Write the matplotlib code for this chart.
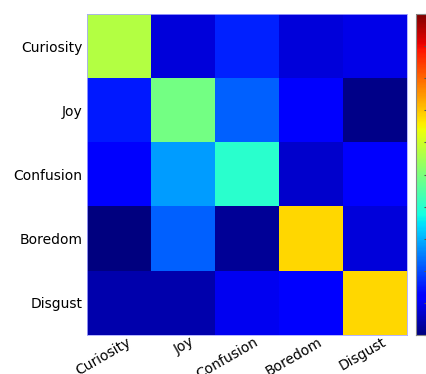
import numpy as np
import matplotlib
matplotlib.use("Agg")
from matplotlib import pyplot as plt
from matplotlib import transforms

labels = ["Curiosity", "Joy", "Confusion", "Boredom", "Disgust"]

# row-normalised confusion matrix (rows = true class, cols = predicted)
curiosity = [0.57, 0.08, 0.16, 0.08, 0.09]
joy = [0.15, 0.49, 0.22, 0.12, 0.01]
confusion = [0.11, 0.28, 0.40, 0.07, 0.11]
boredom = [0.00, 0.22, 0.02, 0.68, 0.08]
disgust = [0.04, 0.04, 0.10, 0.12, 0.68]


def plotConfusion(matrix, names, saveName="out.png"):
    fig = plt.figure(figsize=(4.26, 3.74), dpi=100)
    ax = fig.add_axes([87/426, 1 - 335/374, 320/426, 321/374])
    im = ax.imshow(matrix, cmap="jet", vmin=0, vmax=1,
                   interpolation="nearest", aspect="auto")
    ax.set_xticks(range(len(names)))
    ax.set_yticks(range(len(names)))
    ax.set_xticklabels(names, rotation=30, ha="right", rotation_mode="anchor", fontsize=10)
    ax.set_yticklabels(names, fontsize=10)
    ax.tick_params(length=0)
    ax.tick_params(axis="x", pad=0)
    # nudge the slanted labels a little to the right
    shift = transforms.ScaledTranslation(7/100, 0, fig.dpi_scale_trans)
    for lbl in ax.get_xticklabels():
        lbl.set_transform(lbl.get_transform() + shift)
    for s in ax.spines.values():
        s.set_color("#a8a8ff")
        s.set_linewidth(0.6)

    # colourbar sits at the right edge; only its tick marks are on the canvas
    cax = fig.add_axes([416/426, 1 - 335/374, 14/426, 321/374])
    cb = fig.colorbar(im, cax=cax)
    cb.set_ticks(np.linspace(0, 1, 11))
    cb.set_ticklabels([])
    cb.outline.set_edgecolor("#888888")
    cax.tick_params(direction="in", length=4, width=0.8, color="#555555")
    fig.savefig(saveName, dpi=100)
    plt.close(fig)


plotConfusion(np.array([curiosity, joy, confusion, boredom, disgust]), labels)
